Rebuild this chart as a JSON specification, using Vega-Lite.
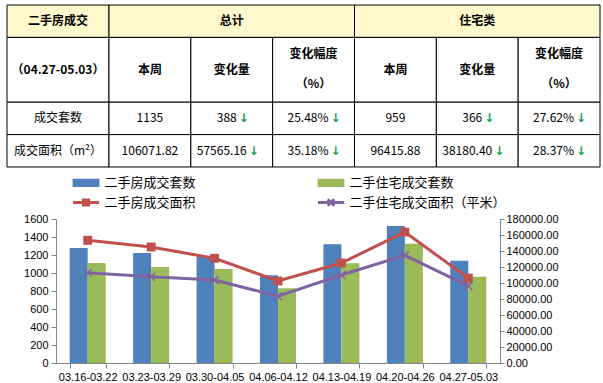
{
  "$schema": "https://vega.github.io/schema/vega-lite/v6.json",
  "padding": {"left": 6, "top": 4, "right": 0, "bottom": 0},
  "spacing": 6,
  "config": {"view": {"stroke": null}, "font": "Noto Sans CJK SC"},
  "datasets": {
    "cells": [
      {"c0": 0, "c1": 1, "r0": 0, "r1": 1, "zone": "header"},
      {"c0": 1, "c1": 4, "r0": 0, "r1": 1, "zone": "header"},
      {"c0": 4, "c1": 7, "r0": 0, "r1": 1, "zone": "header"},
      {"c0": 0, "c1": 1, "r0": 1, "r1": 3, "zone": "body"},
      {"c0": 1, "c1": 2, "r0": 1, "r1": 3, "zone": "body"},
      {"c0": 2, "c1": 3, "r0": 1, "r1": 3, "zone": "body"},
      {"c0": 3, "c1": 4, "r0": 1, "r1": 3, "zone": "body"},
      {"c0": 4, "c1": 5, "r0": 1, "r1": 3, "zone": "body"},
      {"c0": 5, "c1": 6, "r0": 1, "r1": 3, "zone": "body"},
      {"c0": 6, "c1": 7, "r0": 1, "r1": 3, "zone": "body"},
      {"c0": 0, "c1": 1, "r0": 3, "r1": 4, "zone": "body"},
      {"c0": 1, "c1": 2, "r0": 3, "r1": 4, "zone": "body"},
      {"c0": 2, "c1": 3, "r0": 3, "r1": 4, "zone": "body"},
      {"c0": 3, "c1": 4, "r0": 3, "r1": 4, "zone": "body"},
      {"c0": 4, "c1": 5, "r0": 3, "r1": 4, "zone": "body"},
      {"c0": 5, "c1": 6, "r0": 3, "r1": 4, "zone": "body"},
      {"c0": 6, "c1": 7, "r0": 3, "r1": 4, "zone": "body"},
      {"c0": 0, "c1": 1, "r0": 4, "r1": 5, "zone": "body"},
      {"c0": 1, "c1": 2, "r0": 4, "r1": 5, "zone": "body"},
      {"c0": 2, "c1": 3, "r0": 4, "r1": 5, "zone": "body"},
      {"c0": 3, "c1": 4, "r0": 4, "r1": 5, "zone": "body"},
      {"c0": 4, "c1": 5, "r0": 4, "r1": 5, "zone": "body"},
      {"c0": 5, "c1": 6, "r0": 4, "r1": 5, "zone": "body"},
      {"c0": 6, "c1": 7, "r0": 4, "r1": 5, "zone": "body"}
    ],
    "texts": [
      {"col": 0.5, "row": 0.5, "text": "二手房成交", "role": "head"},
      {"col": 2.5, "row": 0.5, "text": "总计", "role": "head"},
      {"col": 5.5, "row": 0.5, "text": "住宅类", "role": "head"},
      {"col": 0.5, "row": 2, "text": "（04.27-05.03）", "role": "head"},
      {"col": 1.5, "row": 2, "text": "本周", "role": "head"},
      {"col": 2.5, "row": 2, "text": "变化量", "role": "head"},
      {"col": 3.5, "row": 1.5, "text": "变化幅度", "role": "head"},
      {"col": 3.5, "row": 2.45, "text": "（%）", "role": "head"},
      {"col": 4.5, "row": 2, "text": "本周", "role": "head"},
      {"col": 5.5, "row": 2, "text": "变化量", "role": "head"},
      {"col": 6.5, "row": 1.5, "text": "变化幅度", "role": "head"},
      {"col": 6.5, "row": 2.45, "text": "（%）", "role": "head"},
      {"col": 0.5, "row": 3.5, "text": "成交套数", "role": "cell"},
      {"col": 1.5, "row": 3.5, "text": "1135", "role": "cell"},
      {"col": 2.5, "row": 3.5, "text": "388", "role": "count_fall"},
      {"col": 3.5, "row": 3.5, "text": "25.48%", "role": "fall"},
      {"col": 4.5, "row": 3.5, "text": "959", "role": "cell"},
      {"col": 5.5, "row": 3.5, "text": "366", "role": "count_fall"},
      {"col": 6.5, "row": 3.5, "text": "27.62%", "role": "fall"},
      {"col": 0.5, "row": 4.5, "text": "成交面积（m²）", "role": "cell"},
      {"col": 1.5, "row": 4.5, "text": "106071.82", "role": "cell"},
      {"col": 2.5, "row": 4.5, "text": "57565.16", "role": "fall"},
      {"col": 3.5, "row": 4.5, "text": "35.18%", "role": "fall"},
      {"col": 4.5, "row": 4.5, "text": "96415.88", "role": "cell"},
      {"col": 5.5, "row": 4.5, "text": "38180.40", "role": "fall"},
      {"col": 6.5, "row": 4.5, "text": "28.37%", "role": "fall"}
    ],
    "weekly": [
      {"week": "03.16-03.22", "series": "二手房成交套数", "value": 1278},
      {"week": "03.23-03.29", "series": "二手房成交套数", "value": 1223},
      {"week": "03.30-04.05", "series": "二手房成交套数", "value": 1190},
      {"week": "04.06-04.12", "series": "二手房成交套数", "value": 975},
      {"week": "04.13-04.19", "series": "二手房成交套数", "value": 1319},
      {"week": "04.20-04.26", "series": "二手房成交套数", "value": 1523},
      {"week": "04.27-05.03", "series": "二手房成交套数", "value": 1135},
      {"week": "03.16-03.22", "series": "二手住宅成交套数", "value": 1111},
      {"week": "03.23-03.29", "series": "二手住宅成交套数", "value": 1067},
      {"week": "03.30-04.05", "series": "二手住宅成交套数", "value": 1045},
      {"week": "04.06-04.12", "series": "二手住宅成交套数", "value": 830},
      {"week": "04.13-04.19", "series": "二手住宅成交套数", "value": 1108},
      {"week": "04.20-04.26", "series": "二手住宅成交套数", "value": 1325},
      {"week": "04.27-05.03", "series": "二手住宅成交套数", "value": 959},
      {"week": "03.16-03.22", "series": "二手房成交面积", "value": 153400},
      {"week": "03.23-03.29", "series": "二手房成交面积", "value": 145000},
      {"week": "03.30-04.05", "series": "二手房成交面积", "value": 130900},
      {"week": "04.06-04.12", "series": "二手房成交面积", "value": 102500},
      {"week": "04.13-04.19", "series": "二手房成交面积", "value": 125000},
      {"week": "04.20-04.26", "series": "二手房成交面积", "value": 163636.98},
      {"week": "04.27-05.03", "series": "二手房成交面积", "value": 106071.82},
      {"week": "03.16-03.22", "series": "二手住宅成交面积（平米）", "value": 112900},
      {"week": "03.23-03.29", "series": "二手住宅成交面积（平米）", "value": 107900},
      {"week": "03.30-04.05", "series": "二手住宅成交面积（平米）", "value": 103750},
      {"week": "04.06-04.12", "series": "二手住宅成交面积（平米）", "value": 83500},
      {"week": "04.13-04.19", "series": "二手住宅成交面积（平米）", "value": 110000},
      {"week": "04.20-04.26", "series": "二手住宅成交面积（平米）", "value": 134596.28},
      {"week": "04.27-05.03", "series": "二手住宅成交面积（平米）", "value": 96415.88}
    ]
  },
  "resolve": {"scale": {"x": "independent", "y": "independent", "color": "independent", "fill": "independent"}, "legend": {"color": "independent", "fill": "independent"}},
  "vconcat": [
    {
      "width": 544,
      "height": 162,
      "layer": [
        {
          "data": {"name": "cells"},
          "mark": {"type": "rect", "stroke": "#000000", "strokeWidth": 1},
          "encoding": {
            "x": {"field": "c0", "type": "quantitative", "scale": {"domain": [0, 1, 7], "range": [-49, 53, 544], "nice": false, "zero": false}, "axis": null},
            "x2": {"field": "c1"},
            "y": {"field": "r0", "type": "quantitative", "scale": {"domain": [0, 5], "range": [0, 162], "nice": false, "zero": false}, "axis": null},
            "y2": {"field": "r1"},
            "fill": {"field": "zone", "type": "nominal", "scale": {"domain": ["header", "body"], "range": ["#FFF8CC", "#FFFFFF"]}, "legend": null}
          }
        },
        {
          "data": {"name": "texts"},
          "transform": [{"filter": "datum.role === 'head'"}],
          "mark": {"type": "text", "font": "Noto Sans CJK SC", "fontSize": 12, "fontWeight": "bold", "color": "#000000", "align": "center", "baseline": "middle"},
          "encoding": {
            "x": {"field": "col", "type": "quantitative", "scale": {"domain": [0, 1, 7], "range": [-49, 53, 544], "nice": false, "zero": false}, "axis": null},
            "y": {"field": "row", "type": "quantitative", "scale": {"domain": [0, 5], "range": [0, 162], "nice": false, "zero": false}, "axis": null},
            "text": {"field": "text"}
          }
        },
        {
          "data": {"name": "texts"},
          "transform": [{"filter": "datum.role === 'cell'"}],
          "mark": {"type": "text", "font": "Noto Sans CJK SC", "fontSize": 12, "color": "#000000", "align": "center", "baseline": "middle"},
          "encoding": {
            "x": {"field": "col", "type": "quantitative", "scale": {"domain": [0, 1, 7], "range": [-49, 53, 544], "nice": false, "zero": false}, "axis": null},
            "y": {"field": "row", "type": "quantitative", "scale": {"domain": [0, 5], "range": [0, 162], "nice": false, "zero": false}, "axis": null},
            "text": {"field": "text"}
          }
        },
        {
          "data": {"name": "texts"},
          "transform": [{"filter": "datum.role === 'fall'"}],
          "mark": {"type": "text", "font": "Noto Sans CJK SC", "fontSize": 12, "color": "#000000", "align": "right", "baseline": "middle", "dx": 15},
          "encoding": {
            "x": {"field": "col", "type": "quantitative", "scale": {"domain": [0, 1, 7], "range": [-49, 53, 544], "nice": false, "zero": false}, "axis": null},
            "y": {"field": "row", "type": "quantitative", "scale": {"domain": [0, 5], "range": [0, 162], "nice": false, "zero": false}, "axis": null},
            "text": {"field": "text"}
          }
        },
        {
          "data": {"name": "texts"},
          "transform": [{"filter": "datum.role === 'fall'"}],
          "mark": {"type": "text", "font": "DejaVu Sans", "fontSize": 12, "fontWeight": "bold", "color": "#13A04E", "align": "left", "baseline": "middle", "dx": 17, "text": "↓"},
          "encoding": {
            "x": {"field": "col", "type": "quantitative", "scale": {"domain": [0, 1, 7], "range": [-49, 53, 544], "nice": false, "zero": false}, "axis": null},
            "y": {"field": "row", "type": "quantitative", "scale": {"domain": [0, 5], "range": [0, 162], "nice": false, "zero": false}, "axis": null}
          }
        },
        {
          "data": {"name": "texts"},
          "transform": [{"filter": "datum.role === 'count_fall'"}],
          "mark": {"type": "text", "font": "Noto Sans CJK SC", "fontSize": 12, "color": "#000000", "align": "right", "baseline": "middle", "dx": 5},
          "encoding": {
            "x": {"field": "col", "type": "quantitative", "scale": {"domain": [0, 1, 7], "range": [-49, 53, 544], "nice": false, "zero": false}, "axis": null},
            "y": {"field": "row", "type": "quantitative", "scale": {"domain": [0, 5], "range": [0, 162], "nice": false, "zero": false}, "axis": null},
            "text": {"field": "text"}
          }
        },
        {
          "data": {"name": "texts"},
          "transform": [{"filter": "datum.role === 'count_fall'"}],
          "mark": {"type": "text", "font": "DejaVu Sans", "fontSize": 12, "fontWeight": "bold", "color": "#13A04E", "align": "left", "baseline": "middle", "dx": 7, "text": "↓"},
          "encoding": {
            "x": {"field": "col", "type": "quantitative", "scale": {"domain": [0, 1, 7], "range": [-49, 53, 544], "nice": false, "zero": false}, "axis": null},
            "y": {"field": "row", "type": "quantitative", "scale": {"domain": [0, 5], "range": [0, 162], "nice": false, "zero": false}, "axis": null}
          }
        }
      ]
    },
    {
      "width": 444,
      "height": 144,
      "data": {"name": "weekly"},
      "encoding": {
        "x": {
          "field": "week", "type": "ordinal", "sort": null,
          "scale": {"paddingInner": 0.432, "paddingOuter": 0.216},
          "axis": {"title": null, "labelAngle": 0, "labelOverlap": false, "tickBand": "extent", "tickSize": 5, "tickColor": "#868686", "domainColor": "#868686", "labelFont": "Liberation Sans", "labelFontSize": 11, "labelColor": "#000000", "labelPadding": 3}
        }
      },
      "layer": [
        {
          "transform": [{"filter": {"field": "series", "oneOf": ["二手房成交套数", "二手住宅成交套数"]}}],
          "mark": {"type": "bar"},
          "encoding": {
            "xOffset": {"field": "series", "type": "nominal", "scale": {"domain": ["二手房成交套数", "二手住宅成交套数"], "paddingInner": 0, "paddingOuter": 0}},
            "y": {
              "field": "value", "type": "quantitative",
              "scale": {"domain": [0, 1600], "nice": false},
              "axis": {"title": null, "values": [0, 200, 400, 600, 800, 1000, 1200, 1400, 1600], "format": "d", "grid": false, "tickSize": 5, "tickColor": "#868686", "domainColor": "#868686", "labelFont": "Liberation Sans", "labelFontSize": 11, "labelColor": "#000000", "labelPadding": 3, "minExtent": 49, "maxExtent": 49}
            },
            "color": {
              "field": "series", "type": "nominal",
              "scale": {"domain": ["二手房成交套数", "二手住宅成交套数", "二手房成交面积", "二手住宅成交面积（平米）"], "range": ["#4F81BD", "#9BBB59", "#C0504D", "#8064A2"]},
              "legend": {
                "orient": "none", "direction": "horizontal", "legendX": 15.5, "legendY": -45, "columns": 2, "columnPadding": 115, "rowPadding": 1,
                "title": null, "padding": 0, "labelFont": "Noto Sans CJK SC", "labelFontSize": 13, "labelColor": "#000000", "labelOffset": 10,
                "symbolSize": 196, "symbolStrokeWidth": 3, "symbolOffset": 6,
                "encode": {
                  "symbols": {
                    "update": {
                      "shape": {"signal": "(datum.value === '二手房成交套数' || datum.value === '二手住宅成交套数') ? 'M-1.7,-0.37H1.7V0.37H-1.7Z' : (datum.value === '二手房成交面积' ? 'M-1.86,0H1.86M-0.37,-0.37H0.37V0.37H-0.37Z' : 'M-1.86,0H1.86M-0.46,-0.46L0.46,0.46M-0.46,0.46L0.46,-0.46')"},
                      "fill": {"scale": "color", "field": "value"},
                      "stroke": {"scale": "color", "field": "value"},
                      "strokeWidth": {"value": 3},
                      "opacity": {"value": 1}
                    }
                  }
                }
              }
            }
          }
        },
        {
          "transform": [{"filter": {"field": "series", "oneOf": ["二手房成交面积", "二手住宅成交面积（平米）"]}}],
          "encoding": {
            "y": {
              "field": "value", "type": "quantitative",
              "scale": {"domain": [0, 180000], "nice": false},
              "axis": {"orient": "right", "title": null, "values": [0, 20000, 40000, 60000, 80000, 100000, 120000, 140000, 160000, 180000], "format": ".2f", "grid": false, "tickSize": 4, "tickColor": "#868686", "domainColor": "#868686", "labelFont": "Liberation Sans", "labelFontSize": 11, "labelColor": "#000000", "labelPadding": 2}
            },
            "color": {
              "field": "series", "type": "nominal",
              "scale": {"domain": ["二手房成交套数", "二手住宅成交套数", "二手房成交面积", "二手住宅成交面积（平米）"], "range": ["#4F81BD", "#9BBB59", "#C0504D", "#8064A2"]}
            }
          },
          "layer": [
            {"mark": {"type": "line", "strokeWidth": 3}},
            {
              "transform": [{"filter": "datum.series === '二手房成交面积'"}],
              "mark": {"type": "point", "shape": "square", "filled": true, "size": 80, "opacity": 1}
            },
            {
              "transform": [{"filter": "datum.series === '二手住宅成交面积（平米）'"}],
              "mark": {"type": "point", "shape": "M-1,-1L1,1M-1,1L1,-1", "filled": false, "size": 64, "strokeWidth": 1.5, "opacity": 1}
            }
          ]
        }
      ],
      "resolve": {"scale": {"y": "independent"}}
    }
  ]
}
